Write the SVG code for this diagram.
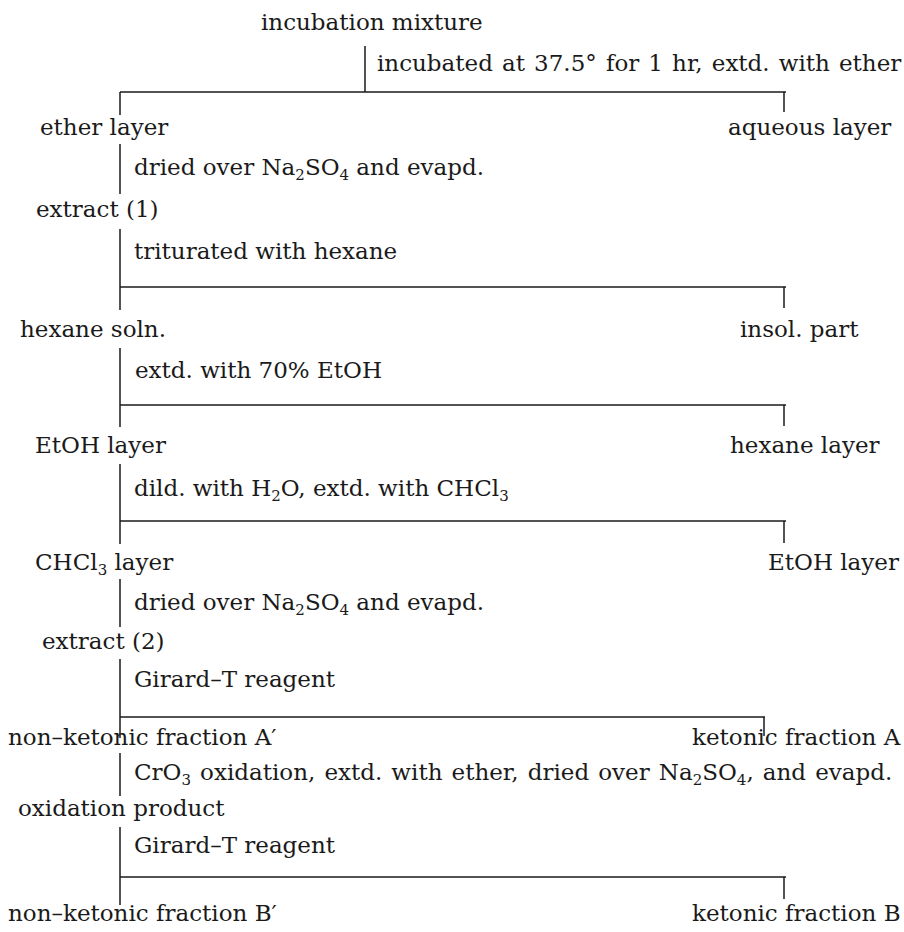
<svg xmlns="http://www.w3.org/2000/svg" width="904" height="932" viewBox="0 0 904 932">
<style>
text{font-family:"DejaVu Serif","Liberation Serif",serif;font-size:23px;fill:#1a1a1a}
.sub{font-size:15px}
.wide{word-spacing:1.8px}
line{stroke:#1a1a1a;stroke-width:1.5}
</style>
<rect width="904" height="932" fill="#ffffff"/>
<g id="connectors">
<line x1="365" y1="46" x2="365" y2="92"/>
<line x1="120" y1="92" x2="786" y2="92"/>
<line x1="120" y1="92" x2="120" y2="115"/>
<line x1="784" y1="92" x2="784" y2="112"/>
<line x1="120" y1="144" x2="120" y2="194"/>
<line x1="120" y1="229" x2="120" y2="310"/>
<line x1="120" y1="287" x2="786" y2="287"/>
<line x1="784" y1="287" x2="784" y2="308"/>
<line x1="120" y1="348" x2="120" y2="427"/>
<line x1="120" y1="405" x2="786" y2="405"/>
<line x1="784" y1="405" x2="784" y2="426"/>
<line x1="120" y1="464" x2="120" y2="544"/>
<line x1="120" y1="521" x2="786" y2="521"/>
<line x1="784" y1="521" x2="784" y2="543"/>
<line x1="120" y1="579" x2="120" y2="627"/>
<line x1="120" y1="659" x2="120" y2="738"/>
<line x1="120" y1="717" x2="765" y2="717"/>
<line x1="764" y1="717" x2="764" y2="736"/>
<line x1="120" y1="753" x2="120" y2="796"/>
<line x1="120" y1="827" x2="120" y2="905"/>
<line x1="120" y1="877" x2="786" y2="877"/>
<line x1="784" y1="877" x2="784" y2="899"/>
</g>
<g id="n-incubation"><text x="261" y="30">incubation mixture</text></g>
<g id="s-incubated"><text class="wide" x="377" y="71">incubated at 37.5° for 1 hr, extd. with ether</text></g>
<g id="n-ether"><text x="40" y="135">ether layer</text></g>
<g id="n-aqueous"><text x="728" y="135">aqueous layer</text></g>
<g id="s-dried1"><text x="134" y="175">dried over Na<tspan class="sub" dy="5">2</tspan><tspan dy="-5">SO</tspan><tspan class="sub" dy="5">4</tspan><tspan dy="-5"> and evapd.</tspan></text></g>
<g id="n-extract1"><text x="36" y="217">extract (1)</text></g>
<g id="s-triturated"><text x="134" y="259">triturated with hexane</text></g>
<g id="n-hexane-soln"><text x="20" y="337">hexane soln.</text></g>
<g id="n-insol"><text x="740" y="337">insol. part</text></g>
<g id="s-etoh70"><text x="135" y="378">extd. with 70% EtOH</text></g>
<g id="n-etoh-layer1"><text x="35" y="453">EtOH layer</text></g>
<g id="n-hexane-layer"><text x="730" y="453">hexane layer</text></g>
<g id="s-dild"><text x="134" y="496">dild. with H<tspan class="sub" dy="5">2</tspan><tspan dy="-5">O, extd. with CHCl</tspan><tspan class="sub" dy="5">3</tspan></text></g>
<g id="n-chcl3"><text x="35" y="570">CHCl<tspan class="sub" dy="5">3</tspan><tspan dy="-5"> layer</tspan></text></g>
<g id="n-etoh-layer2"><text x="768" y="570">EtOH layer</text></g>
<g id="s-dried2"><text x="134" y="610">dried over Na<tspan class="sub" dy="5">2</tspan><tspan dy="-5">SO</tspan><tspan class="sub" dy="5">4</tspan><tspan dy="-5"> and evapd.</tspan></text></g>
<g id="n-extract2"><text x="42" y="649">extract (2)</text></g>
<g id="s-girard1"><text x="134" y="687">Girard–T reagent</text></g>
<g id="n-nonketonic-a"><text x="8" y="745">non–ketonic fraction A′</text></g>
<g id="n-ketonic-a"><text x="692" y="745">ketonic fraction A</text></g>
<g id="s-cro3"><text class="wide" x="134" y="780">CrO<tspan class="sub" dy="5">3</tspan><tspan dy="-5"> oxidation, extd. with ether, dried over Na</tspan><tspan class="sub" dy="5">2</tspan><tspan dy="-5">SO</tspan><tspan class="sub" dy="5">4</tspan><tspan dy="-5">, and evapd.</tspan></text></g>
<g id="n-oxidation"><text x="18" y="816">oxidation product</text></g>
<g id="s-girard2"><text x="134" y="853">Girard–T reagent</text></g>
<g id="n-nonketonic-b"><text x="8" y="921">non–ketonic fraction B′</text></g>
<g id="n-ketonic-b"><text x="692" y="921">ketonic fraction B</text></g>
</svg>
